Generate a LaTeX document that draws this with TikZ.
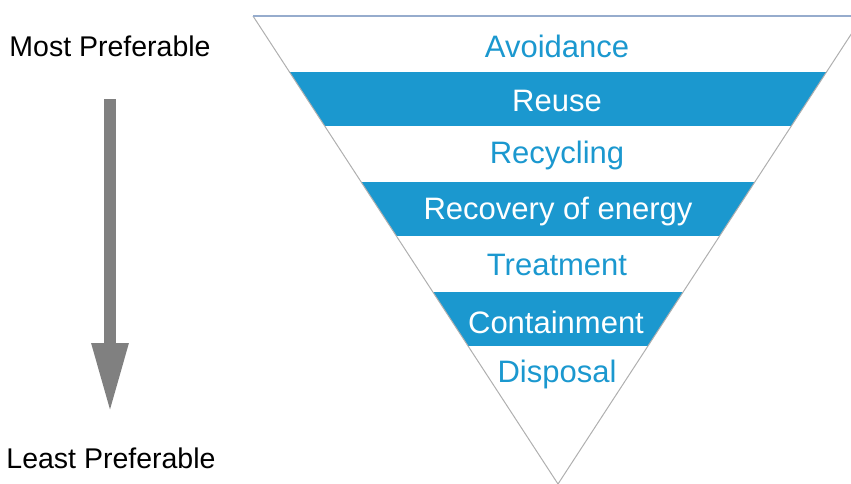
\documentclass[tikz,border=0pt]{standalone}
\usepackage{fontspec}
\setmainfont{Liberation Sans}
\usetikzlibrary{arrows.meta}
\definecolor{bandblue}{RGB}{27,152,207}
\definecolor{arrowgray}{RGB}{128,128,128}
\definecolor{edgegray}{RGB}{175,175,175}
\definecolor{topline}{RGB}{150,172,205}
\tikzset{
  sidelabel/.style={font=\fontsize{28.5}{34}\selectfont, text=black},
  bandlabel/.style={font=\fontsize{31}{36}\selectfont, text=bandblue},
  filllabel/.style={font=\fontsize{31}{36}\selectfont, text=white}
}
\begin{document}
\begin{tikzpicture}[x=1pt, y=-1pt]
      \useasboundingbox (0, 0) rectangle (851, 483);

      \begin{scope}
        \clip (253, 16) -- (863, 16) -- (558, 484) -- cycle;
        \fill [bandblue] (0, 72) rectangle (851, 126);
        \fill [bandblue] (0, 182) rectangle (851, 236);
        \fill [bandblue] (0, 292) rectangle (851, 346);
      \end{scope}
      \draw [edgegray, line width=1] (253, 16) -- (558, 484) -- (863, 16);
      \draw [topline, line width=1.5] (253, 16) -- (851, 16);

      \node (avoid) [bandlabel] at (557, 46) {Avoidance};
      \node (reuse) [filllabel] at (557, 101) {Reuse};
      \node (recyc) [bandlabel] at (557, 155) {Recycling};
      \node (recov) [filllabel] at (558, 211) {Recovery of energy};
      \node (treat) [bandlabel] at (557, 265) {Treatment};
      \node (contain) [filllabel] at (556, 322) {Containment};
      \node (dispo) [bandlabel] at (557, 374) {Disposal};

      \node (most) [sidelabel] at (110, 46) {Most Preferable};
      \node (least) [sidelabel] at (111, 458) {Least Preferable};

      \coordinate (arrowtop) at (110, 99);
      \coordinate (arrowtip) at (110, 413);
      \draw [arrowgray, line width=12, -{Triangle[length=70pt, width=34pt]}] (arrowtop) -- (arrowtip);
    \end{tikzpicture}
\end{document}
